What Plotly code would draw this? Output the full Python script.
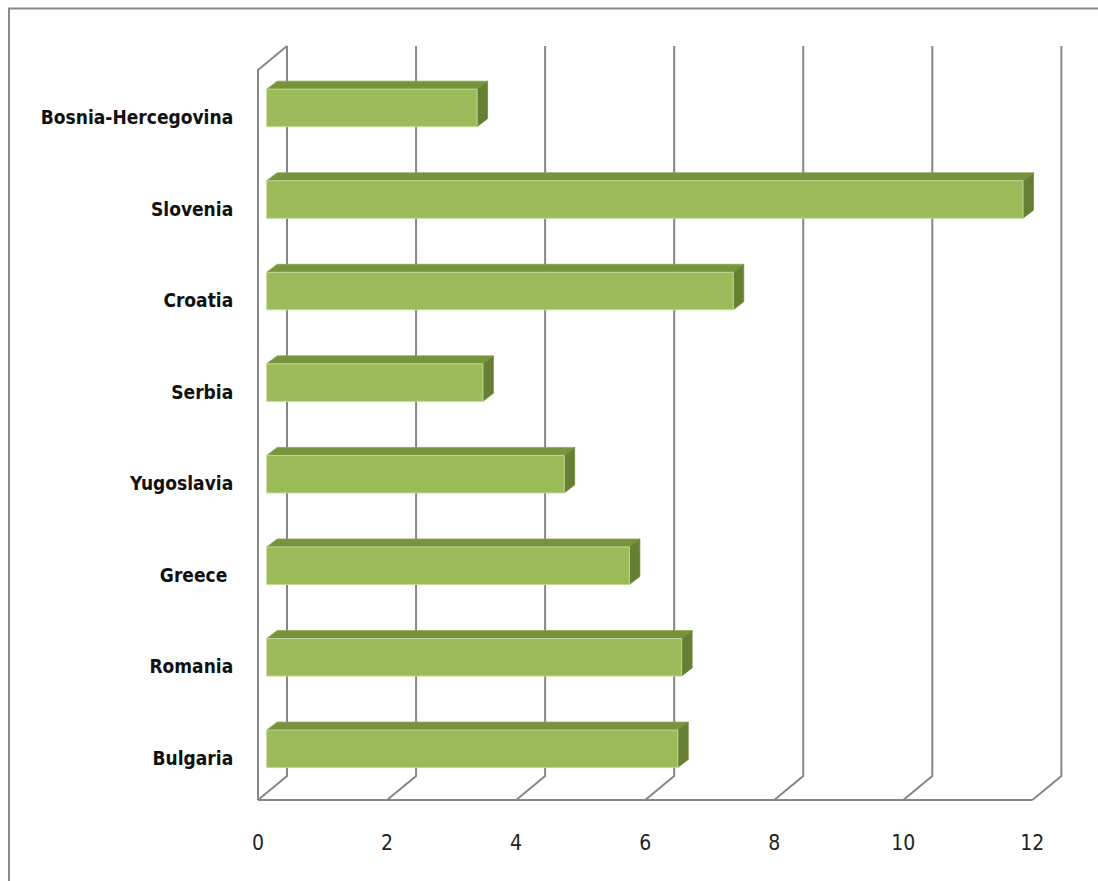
import plotly.graph_objects as go

# Data
countries = ["Bulgaria", "Romania", "Greece ", "Yugoslavia", "Serbia",
             "Croatia", "Slovenia", "Bosnia-Hercegovina"]
values = [6.37, 6.43, 5.62, 4.61, 3.35, 7.23, 11.72, 3.26]
x_ticks = [0, 2, 4, 6, 8, 10, 12]

# Page / plot geometry (pixels)
W, H = 1098, 881
L, R, T, B = 240, 8, 20, 61
PX_PER_X = 64.53      # pixels per value unit
PX_PER_Y = 91.56      # pixels per category step
X0_PX = 258           # value 0 on the front plane
Y0_PX = 758.4         # first category centre on the front plane

x_range = [(L - X0_PX) / PX_PER_X, (W - R - X0_PX) / PX_PER_X]
y_range = [(Y0_PX - (H - B)) / PX_PER_Y, (Y0_PX - T) / PX_PER_Y]

# 3-D wall / floor depth offsets, in data units
WX, WY = 29 / PX_PER_X, 24 / PX_PER_Y
Y_FLOOR = -(800 - Y0_PX) / PX_PER_Y
Y_TOP = (Y0_PX - 70) / PX_PER_Y

# Bar box: front face offset, half height, depth
BX, BY = 8.7 / PX_PER_X, 9.55 / PX_PER_Y
HH = 18.75 / PX_PER_Y
DX, DY = 10.5 / PX_PER_X, 8 / PX_PER_Y

GRID = "#878787"
FRONT = "#9bbb59"
TOP = "#77933c"
SIDE = "#677f33"

fig = go.Figure()

# Walls and floor grid
gx, gy = [], []
x_max = x_ticks[-1]
for t in x_ticks:
    gx += [t, t + WX, t + WX, None]
    gy += [Y_FLOOR, Y_FLOOR + WY, Y_TOP + WY, None]
gx += [0, x_max, None, 0, 0, WX, None]
gy += [Y_FLOOR, Y_FLOOR, None, Y_FLOOR, Y_TOP, Y_TOP + WY, None]
fig.add_trace(go.Scatter(x=gx, y=gy, mode="lines",
                         line=dict(color=GRID, width=2),
                         hoverinfo="skip", showlegend=False))

# Bars drawn as three faces each
fx, fy, tx, ty, sx, sy = [], [], [], [], [], []
for i, v in enumerate(values):
    x0, x1 = BX, BX + v
    y0, y1 = i + BY - HH, i + BY + HH
    fx += [x0, x1, x1, x0, x0, None]
    fy += [y0, y0, y1, y1, y0, None]
    tx += [x0, x1, x1 + DX, x0 + DX, x0, None]
    ty += [y1, y1, y1 + DY, y1 + DY, y1, None]
    sx += [x1, x1, x1 + DX, x1 + DX, x1, None]
    sy += [y0, y1, y1 + DY, y0 + DY, y0, None]

fig.add_trace(go.Scatter(x=tx, y=ty, fill="toself", fillcolor=TOP, mode="lines",
                         line=dict(color="#8aa64e", width=0.8),
                         hoverinfo="skip", showlegend=False))
fig.add_trace(go.Scatter(x=sx, y=sy, fill="toself", fillcolor=SIDE, mode="lines",
                         line=dict(color="#728c3a", width=0.8),
                         hoverinfo="skip", showlegend=False))
fig.add_trace(go.Scatter(x=fx, y=fy, fill="toself", fillcolor=FRONT, mode="lines",
                         line=dict(color="#c2d69a", width=1),
                         hoverinfo="skip", showlegend=False))

plot_w = W - L - R
plot_h = H - T - B
# Chart-area frame (runs off the right and bottom of the page)
fig.add_shape(type="rect", xref="paper", yref="paper",
              x0=(9 - L) / plot_w, x1=(W + 20 - L) / plot_w,
              y0=-(H + 20 - (H - B)) / plot_h, y1=1 + (T - 8.5) / plot_h,
              line=dict(color="#8a8a8a", width=2), fillcolor="rgba(0,0,0,0)",
              layer="below")

FONT = "DejaVu Sans Condensed, DejaVu Sans, Liberation Sans, sans-serif"
fig.update_layout(
    width=W, height=H,
    margin=dict(l=L, r=R, t=T, b=B, autoexpand=False),
    paper_bgcolor="white", plot_bgcolor="white",
    xaxis=dict(range=x_range, tickvals=x_ticks, ticktext=[str(t) for t in x_ticks],
               showgrid=False, zeroline=False, showline=False,
               ticks="outside", ticklen=4, tickcolor="rgba(0,0,0,0)",
               tickfont=dict(family=FONT, size=21, color="#222222"),
               fixedrange=True),
    yaxis=dict(range=y_range, tickvals=list(range(len(countries))), ticktext=countries,
               showgrid=False, zeroline=False, showline=False,
               ticks="outside", ticklen=2, tickcolor="rgba(0,0,0,0)",
               tickfont=dict(family=FONT, size=19, color="#111111", weight="bold"),
               fixedrange=True),
)

fig.write_html("out.html")
